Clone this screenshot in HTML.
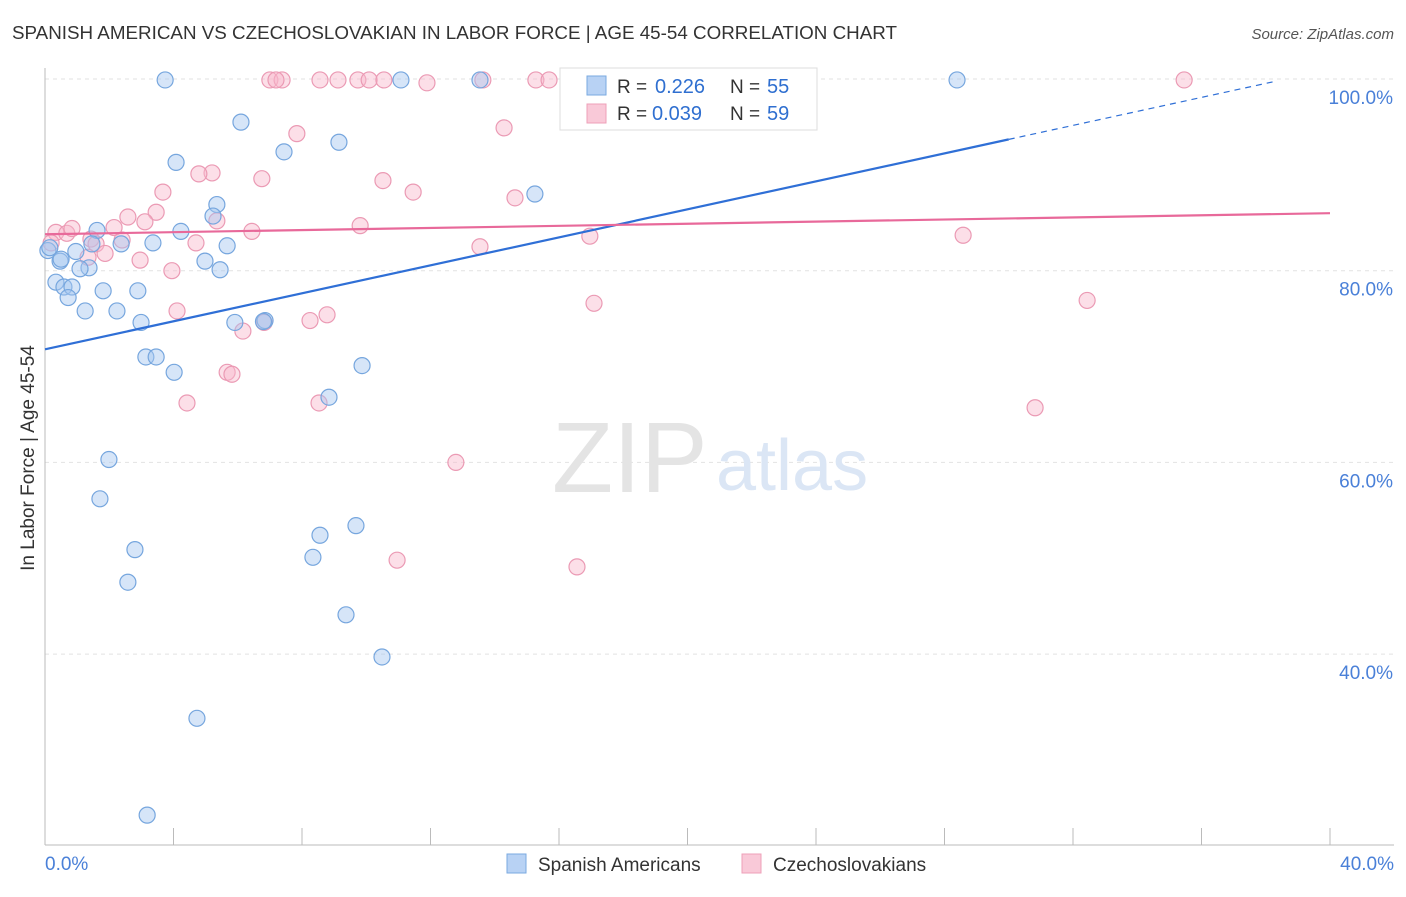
<!DOCTYPE html>
<html><head><meta charset="utf-8"><style>
body{margin:0;background:#fff;font-family:"Liberation Sans",sans-serif;}
svg text{font-family:"Liberation Sans",sans-serif;}
</style></head><body>
<svg id="chart" width="1406" height="892">
<text x="12" y="39" font-size="18" fill="#333" textLength="885" lengthAdjust="spacingAndGlyphs">SPANISH AMERICAN VS CZECHOSLOVAKIAN IN LABOR FORCE | AGE 45-54 CORRELATION CHART</text>
<text x="1394" y="39" font-size="15" fill="#555" font-style="italic" text-anchor="end">Source: ZipAtlas.com</text>
<text x="34" y="458" font-size="19" fill="#333" text-anchor="middle" transform="rotate(-90 34 458)">In Labor Force | Age 45-54</text>
<g id="grid"></g>
<text x="552" y="492" font-size="100" fill="#e4e4e4" font-family="Liberation Serif">ZIP</text>
<text x="716" y="490" font-size="72" fill="#dbe6f5">atlas</text>
<g id="marks"></g>
<g>
<rect x="560" y="68" width="257" height="62" fill="#fff" stroke="#ddd"/>
<rect x="587" y="76" width="19" height="19" fill="#b8d2f4" stroke="#7aaae0"/>
<text x="617" y="93" font-size="19" fill="#333">R =</text>
<text x="655" y="93" font-size="20" fill="#2f6fd0">0.226</text>
<text x="730" y="93" font-size="19" fill="#333">N =</text>
<text x="767" y="93" font-size="20" fill="#2f6fd0">55</text>
<rect x="587" y="104" width="19" height="19" fill="#f9c9d8" stroke="#eea0b8"/>
<text x="617" y="120" font-size="19" fill="#333">R =</text>
<text x="652" y="120" font-size="20" fill="#2f6fd0">0.039</text>
<text x="730" y="120" font-size="19" fill="#333">N =</text>
<text x="767" y="120" font-size="20" fill="#2f6fd0">59</text>
</g>
<g>
<rect x="507" y="854" width="19" height="19" fill="#b8d2f4" stroke="#7aaae0"/>
<text x="538" y="871" font-size="19" fill="#333">Spanish Americans</text>
<rect x="742" y="854" width="19" height="19" fill="#f9c9d8" stroke="#eea0b8"/>
<text x="773" y="871" font-size="19" fill="#333">Czechoslovakians</text>
</g>
</svg>
<script>
const yTicks=[100,80,60,40];
const yTickLabels=["100.0%","80.0%","60.0%","40.0%"];
const xTicks=[0,4,8,12,16,20,24,28,32,36,40];
const blueX=[3.74,11.08,13.54,28.39,6.10,9.15,7.44,4.08,15.25,5.35,5.23,4.23,1.62,3.36,2.37,1.46,5.67,0.09,0.96,0.47,4.98,1.37,1.09,5.45,0.34,0.59,0.84,1.81,2.89,0.72,1.25,2.24,2.99,5.91,6.85,3.14,3.46,4.02,9.87,8.84,1.99,1.71,2.80,9.68,8.56,8.34,2.58,9.37,10.49,4.73,3.18,0.15,17.3,6.8,0.5];
const blueY=[99.9,99.9,99.9,99.9,95.5,93.4,92.4,91.3,88.0,86.9,85.7,84.1,84.2,82.9,82.8,82.8,82.6,82.1,82.0,81.0,81.0,80.3,80.2,80.1,78.8,78.3,78.3,77.9,77.9,77.2,75.8,75.8,74.6,74.6,74.8,71.0,71.0,69.4,70.1,66.8,60.3,56.2,50.9,53.4,52.4,50.1,47.5,44.1,39.7,33.3,23.2,82.4,99.9,74.7,81.2];
const pinkX=[7.00,7.38,7.19,8.56,9.12,9.74,10.09,10.55,11.89,13.63,15.28,15.69,35.46,14.29,7.84,5.20,4.79,6.75,3.67,10.52,11.46,14.63,3.46,2.58,3.11,5.35,2.15,0.34,0.68,0.84,6.44,9.81,1.43,1.59,2.40,4.70,13.54,16.96,28.58,2.96,1.87,1.34,3.95,0.19,4.11,17.09,32.44,8.78,8.25,6.16,6.82,5.67,5.82,4.42,8.53,30.82,12.79,10.96,16.56];
const pinkY=[99.9,99.9,99.9,99.9,99.9,99.9,99.9,99.9,99.6,99.9,99.9,99.9,99.9,94.9,94.3,90.2,90.1,89.6,88.2,89.4,88.2,87.6,86.1,85.6,85.1,85.2,84.5,84.0,83.9,84.4,84.1,84.7,83.3,82.8,83.2,82.9,82.5,83.6,83.7,81.1,81.8,81.4,80.0,82.9,75.8,76.6,76.9,75.4,74.8,73.7,74.6,69.4,69.2,66.2,66.2,65.7,60.0,49.8,49.1];
const blueLine=[71.8,93.7,30.0,38.3];
const pinkLine=[83.8,86.0];
const X=v=>45+v*32.125, Y=v=>79+(100-v)*9.585;
const NS="http://www.w3.org/2000/svg";
function mk(t,a,p){const e=document.createElementNS(NS,t);for(const k in a)e.setAttribute(k,a[k]);p.appendChild(e);return e;}
const grid=document.getElementById('grid'),marks=document.getElementById('marks');
yTicks.forEach((t,i)=>{
 const g=mk('line',{x1:45,x2:1394,y1:Y(t),y2:Y(t),stroke:'#e2e2e2','stroke-dasharray':'4,4'},grid);
 
 
 const l=mk('text',{x:1393,y:Y(t)+25,'font-size':19,fill:'#4a80d8','text-anchor':'end'},grid);
 l.textContent=yTickLabels[i];
 
 
});
mk('line',{x1:45,x2:45,y1:68,y2:845,stroke:'#bbb'},grid);
mk('line',{x1:45,x2:1394,y1:845,y2:845,stroke:'#bbb'},grid);
xTicks.forEach(t=>{const tk=mk('line',{x1:X(t),x2:X(t),y1:828,y2:845,stroke:'#bbb'},grid);
 
 });
const xl=mk('text',{x:45,y:870,'font-size':19,fill:'#4a80d8'},grid);xl.textContent='0.0%';


const xr=mk('text',{x:1394,y:870,'font-size':19,fill:'#4a80d8','text-anchor':'end'},grid);xr.textContent='40.0%';


function pts(xs,ys,fill,stroke,name){xs.forEach((x,i)=>{const c=mk('circle',{cx:X(x),cy:Y(ys[i]),r:8,fill:fill,stroke:stroke,'stroke-width':1.2},marks);
 
 });}
pts(pinkX,pinkY,'rgba(248,185,205,0.45)','#eb9ab4','czechoslovakian-point');
pts(blueX,blueY,'rgba(165,198,240,0.45)','#76a6de','spanish-american-point');
const slope=(blueLine[1]-blueLine[0])/blueLine[2];
const bl=mk('line',{x1:X(0),y1:Y(blueLine[0]),x2:X(blueLine[2]),y2:Y(blueLine[1]),stroke:'#2f6fd6','stroke-width':2.2},marks);


const bd=mk('line',{x1:X(blueLine[2]),y1:Y(blueLine[1]),x2:X(blueLine[3]),y2:Y(blueLine[0]+slope*blueLine[3]),stroke:'#2f6fd6','stroke-width':1.2,'stroke-dasharray':'6,5'},marks);


const pl=mk('line',{x1:X(0),y1:Y(pinkLine[0]),x2:X(40),y2:Y(pinkLine[1]),stroke:'#e8699a','stroke-width':2.2},marks);


</script>
</body></html>
